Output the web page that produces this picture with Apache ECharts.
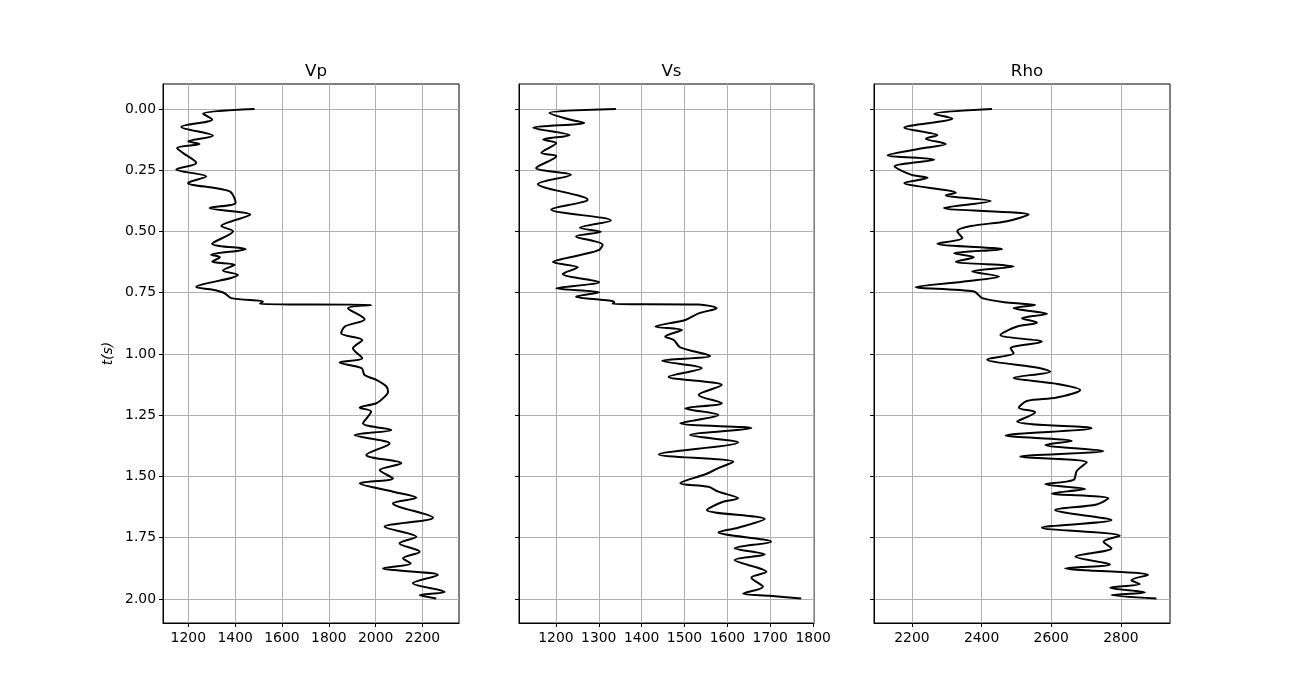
<!DOCTYPE html>
<html>
<head>
<meta charset="utf-8">
<script src="https://cdn.jsdelivr.net/npm/echarts@6/dist/echarts.min.js"></script>
<style>html,body{margin:0;padding:0;background:#fff}#c{width:1300px;height:700px}</style>
</head>
<body>
<div id="c"></div>
<script>
// ---- data ----
var titles = ['Vp', 'Vs', 'Rho'];
var timeTicks = [0, 0.25, 0.5, 0.75, 1.0, 1.25, 1.5, 1.75, 2.0];
var vpTicks = [1200, 1400, 1600, 1800, 2000, 2200];
var vsTicks = [1200, 1300, 1400, 1500, 1600, 1700, 1800];
var rhoTicks = [2200, 2400, 2600, 2800];

var vpT = [0.000,0.019,0.043,0.073,0.109,0.132,0.143,0.159,0.179,0.220,0.247,0.275,0.302,0.336,0.383,0.404,0.431,0.478,0.499,0.550,0.572,0.595,0.605,0.623,0.636,0.659,0.677,0.727,0.738,0.752,0.772,0.786,0.796,0.800,0.813,0.858,0.888,0.915,0.943,0.977,1.017,1.035,1.058,1.086,1.106,1.133,1.154,1.174,1.201,1.219,1.235,1.283,1.310,1.331,1.365,1.412,1.446,1.474,1.508,1.528,1.562,1.587,1.610,1.668,1.705,1.746,1.773,1.807,1.834,1.855,1.875,1.902,1.936,1.971,1.984,1.998];
var vpV = [1483,1263,1302,1170,1305,1199,1248,1152,1177,1234,1149,1277,1199,1377,1402,1291,1465,1341,1391,1302,1445,1298,1335,1302,1398,1348,1412,1234,1305,1355,1384,1519,1505,1982,1882,1953,1868,1853,1943,1903,1943,1846,1940,1953,2003,2046,2053,2039,2003,1932,1981,1946,2067,1910,2060,1960,2110,2017,2074,1932,2074,2174,2074,2245,2038,2174,2102,2188,2117,2150,2031,2266,2159,2295,2188,2259];

var vsT = [0.000,0.016,0.043,0.057,0.077,0.107,0.125,0.139,0.179,0.193,0.241,0.268,0.306,0.370,0.410,0.455,0.485,0.501,0.520,0.554,0.575,0.595,0.625,0.646,0.673,0.707,0.732,0.748,0.766,0.782,0.789,0.796,0.798,0.813,0.834,0.861,0.888,0.902,0.929,0.943,0.973,1.008,1.028,1.058,1.093,1.127,1.167,1.201,1.222,1.249,1.283,1.303,1.331,1.361,1.410,1.440,1.465,1.490,1.528,1.542,1.562,1.589,1.605,1.637,1.674,1.709,1.728,1.766,1.793,1.818,1.841,1.889,1.913,1.950,1.978,1.987,1.998];
var vsV = [1340,1185,1232,1266,1147,1232,1170,1201,1166,1201,1154,1235,1158,1274,1189,1328,1256,1305,1247,1309,1301,1259,1193,1251,1216,1301,1201,1301,1247,1324,1336,1332,1533,1575,1533,1502,1432,1494,1455,1475,1490,1560,1448,1540,1463,1587,1533,1587,1502,1579,1490,1656,1513,1625,1440,1614,1580,1550,1490,1556,1579,1625,1587,1552,1687,1625,1579,1702,1617,1687,1617,1691,1656,1683,1637,1699,1772];

var rhoT = [0.000,0.020,0.039,0.077,0.107,0.121,0.143,0.159,0.189,0.207,0.234,0.268,0.281,0.302,0.342,0.352,0.376,0.404,0.431,0.458,0.478,0.499,0.527,0.550,0.572,0.589,0.605,0.623,0.643,0.663,0.684,0.704,0.727,0.745,0.772,0.790,0.800,0.813,0.836,0.854,0.872,0.888,0.922,0.950,0.977,0.997,1.022,1.058,1.072,1.097,1.120,1.147,1.178,1.192,1.219,1.238,1.276,1.303,1.333,1.355,1.371,1.396,1.419,1.442,1.478,1.514,1.532,1.551,1.569,1.589,1.614,1.637,1.678,1.709,1.742,1.766,1.793,1.827,1.859,1.875,1.902,1.923,1.939,1.954,1.973,1.984,1.998];
var rhoV = [2430,2264,2316,2178,2273,2240,2297,2235,2130,2264,2150,2197,2245,2178,2326,2297,2426,2292,2535,2473,2369,2330,2345,2273,2459,2321,2378,2326,2492,2373,2450,2350,2211,2378,2402,2473,2554,2492,2588,2516,2559,2502,2454,2573,2483,2492,2416,2569,2597,2492,2607,2683,2616,2530,2507,2554,2502,2716,2469,2659,2583,2750,2511,2702,2673,2664,2583,2697,2602,2764,2730,2611,2773,2573,2797,2750,2773,2669,2769,2640,2878,2830,2854,2769,2869,2773,2902];

// ---- build chart ----
function zip(v, t) { var o = []; for (var i = 0; i < v.length; i++) o.push([v[i], t[i]]); return o; }
var FONT = 'DejaVu Sans';
var lefts = [163, 519, 874], widths = [296, 295, 296];
var xr = [[1092, 2356], [1114, 1802], [2091, 2941]];
var xt = [vpTicks, vsTicks, rhoTicks];
var vals = [vpV, vsV, rhoV], ts = [vpT, vsT, rhoT];
var gridC = '#b0b0b0';

var grids = [], xAxes = [], yAxes = [], series = [], ttl = [];
for (var i = 0; i < 3; i++) {
  grids.push({left: lefts[i], width: widths[i], top: 84, height: 539, show: true, borderColor: '#000', borderWidth: 1, backgroundColor: 'transparent'});
  ttl.push({text: titles[i], left: lefts[i] + widths[i] / 2, top: 58, textAlign: 'center',
    textStyle: {fontFamily: FONT, fontSize: 16.7, fontWeight: 'normal', color: '#000'}});
  xAxes.push({type: 'value', gridIndex: i, min: xr[i][0], max: xr[i][1], position: 'bottom',
    axisLine: {show: true, onZero: false, lineStyle: {color: '#000', width: 1}},
    axisTick: {show: true, length: 4, customValues: xt[i], lineStyle: {color: '#000'}},
    axisLabel: {show: true, customValues: xt[i], color: '#000', fontFamily: FONT, fontSize: 13.9, margin: 8,
      formatter: function (v) { return String(Math.round(v)); }},
    splitLine: {show: true, lineStyle: {color: gridC, width: 1}}});
  yAxes.push({type: 'value', gridIndex: i, min: -0.102, max: 2.098, inverse: true,
    name: i === 0 ? 't(s)' : '', nameLocation: 'middle', nameGap: 48, nameRotate: 90,
    nameTextStyle: {fontFamily: FONT, fontSize: 13.9, fontStyle: 'italic', color: '#000'},
    axisLine: {show: true, onZero: false, lineStyle: {color: '#000', width: 1}},
    axisTick: {show: true, length: 4, customValues: timeTicks, lineStyle: {color: '#000'}},
    axisLabel: {show: i === 0, customValues: timeTicks, color: '#000', fontFamily: FONT, fontSize: 13.9, margin: 7,
      formatter: function (v) { return v.toFixed(2); }},
    splitLine: {show: true, lineStyle: {color: gridC, width: 1}}});
  series.push({type: 'line', xAxisIndex: i, yAxisIndex: i, data: zip(vals[i], ts[i]), showSymbol: false,
    smooth: 0.3, lineStyle: {color: '#000', width: 2}, z: 5});
}

var chart = echarts.init(document.getElementById('c'));
chart.setOption({animation: false, backgroundColor: '#fff', title: ttl, grid: grids, xAxis: xAxes, yAxis: yAxes, series: series});
</script>
</body>
</html>
